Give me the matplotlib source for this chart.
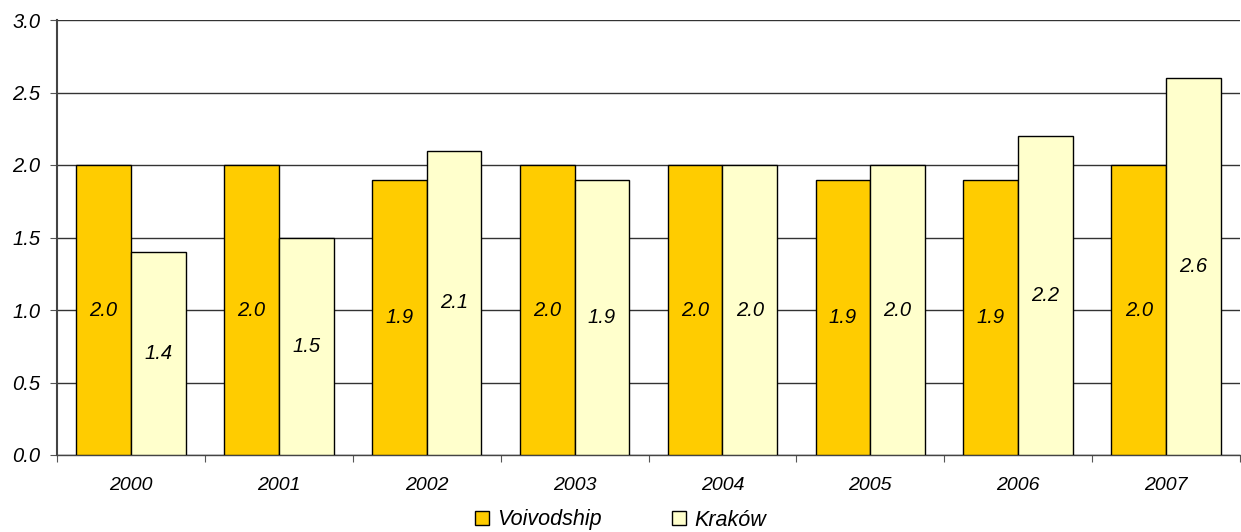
import matplotlib
matplotlib.use("Agg")
import matplotlib.pyplot as plt
import numpy as np

years = ["2000", "2001", "2002", "2003", "2004", "2005", "2006", "2007"]
voivodship = [2.0, 2.0, 1.9, 2.0, 2.0, 1.9, 1.9, 2.0]
krakow = [1.4, 1.5, 2.1, 1.9, 2.0, 2.0, 2.2, 2.6]
series_names = ["Voivodship", "Kraków"]
yticks = [0.0, 0.5, 1.0, 1.5, 2.0, 2.5, 3.0]

plt.rcParams['font.family'] = ['Liberation Sans', 'DejaVu Sans']
fig = plt.figure(figsize=(12.41, 5.32), dpi=100)
ax = fig.add_axes([57/1241, 1-455/532, 1-57/1241-1/1241, (455-20)/532])

x = np.arange(len(years))
w = 0.37
b1 = ax.bar(x - w/2, voivodship, w, color="#FFCC00", edgecolor="black", linewidth=1, label=series_names[0], zorder=3)
b2 = ax.bar(x + w/2, krakow, w, color="#FFFFCC", edgecolor="black", linewidth=1, label=series_names[1], zorder=3)

for bars, vals in ((b1, voivodship), (b2, krakow)):
    for r, v in zip(bars, vals):
        ax.text(r.get_x() + r.get_width()/2, v/2, f"{v:.1f}", ha="center", va="center",
                fontsize=14.5, style="italic", zorder=4)

ax.set_xlim(-0.5, len(years) - 0.5)
ax.set_ylim(0, 3.0)
ax.set_yticks(yticks)
ax.set_yticklabels([f"{t:.1f}" for t in yticks], fontsize=14.5, style="italic")
ax.yaxis.grid(True, color="#333333", linewidth=1, zorder=0)
ax.set_axisbelow(True)

ax.set_xticks(np.arange(len(years) + 1) - 0.5)
ax.set_xticklabels([])
ax.set_xticks(x, minor=True)
ax.set_xticklabels(years, minor=True, fontsize=14, style="italic")
ax.tick_params(axis="x", which="minor", length=0, pad=16)
ax.tick_params(axis="x", which="major", length=5, color="#555555")
ax.tick_params(axis="y", length=5, color="#555555", pad=7)

for s in ("top", "right"):
    ax.spines[s].set_visible(False)
ax.spines["left"].set_color("#444444")
ax.spines["left"].set_linewidth(1.5)
ax.spines["bottom"].set_color("#444444")
ax.spines["bottom"].set_linewidth(1.0)

leg = fig.legend(handles=[b1, b2], labels=series_names, loc="center", bbox_to_anchor=(0.5, 1-520/532),
                 ncol=2, frameon=False, prop={"size": 15.5, "style": "italic"},
                 handlelength=0.65, handleheight=0.65, columnspacing=3.3, handletextpad=0.35)

fig.savefig("out.png", dpi=100)
